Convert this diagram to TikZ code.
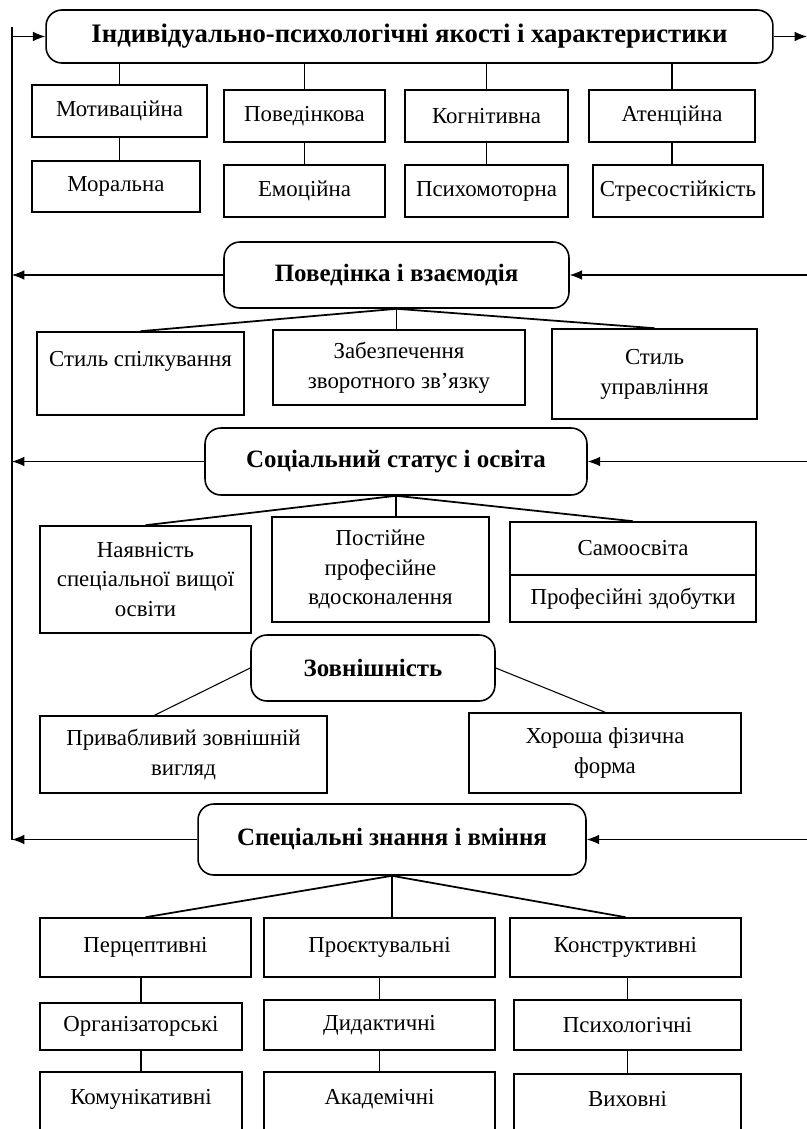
\documentclass[tikz,border=0pt]{standalone}
\usepackage{fontspec}
\setmainfont{Liberation Serif}
\usepackage{tikz}
\usetikzlibrary{arrows.meta, calc}
\tikzstyle{box} = [draw, line width=0.9pt, align=center, inner sep=2pt, font=\fontsize{13}{17}\selectfont]
\tikzstyle{head} = [draw, rounded corners=9pt, line width=0.9pt, align=center, font=\fontsize{14.2}{17}\selectfont\bfseries]
\tikzstyle{line} = [line width=0.6pt]
\tikzstyle{fan} = [line width=1pt]

\begin{document}
\begin{tikzpicture}[x=0.02cm, y=-0.02cm, >={Latex[length=7pt,width=5.5pt]}]
\clip (0,0) rectangle (807,1129);

%nodes
\node (1) [head, minimum width=14.54cm, minimum height=1.06cm, font=\fontsize{15.2}{17}\selectfont\bfseries] at (409.5,36.5) {Індивідуально-психологічні якості і характеристики};
\node (2) [box, minimum width=3.5cm, minimum height=1.04cm] at (119.5,111) {Мотиваційна};
\node (3) [box, minimum width=3.36cm, minimum height=1.02cm] at (116,186.5) {Моральна};
\node (4) [box, minimum width=3.22cm, minimum height=1.04cm] at (304.5,116) {Поведінкова};
\node (5) [box, minimum width=3.22cm, minimum height=1.04cm] at (304.5,191) {Емоційна};
\node (6) [box, minimum width=3.26cm, minimum height=1.04cm] at (486.5,116) {Когнітивна};
\node (7) [box, minimum width=3.26cm, minimum height=1.04cm] at (486.5,191) {Психомоторна};
\node (8) [box, minimum width=3.32cm, minimum height=1.04cm] at (672,116) {Атенційна};
\node (9) [box, minimum width=3.4cm, minimum height=1.04cm] at (678,191) {Стресостійкість};

\node (10) [head, minimum width=6.9cm, minimum height=1.32cm] at (396.5,275) {Поведінка і взаємодія};
\node (11) [box, minimum width=4.14cm, minimum height=1.66cm] at (140.5,373.5) {Стиль спілкування\\ \mbox{}};
\node (12) [box, minimum width=5.04cm, minimum height=1.5cm] at (399,367.5) {Забезпечення\\ зворотного зв’язку};
\node (13) [box, minimum width=4.1cm, minimum height=1.8cm] at (654.5,374) {Стиль\\ управління};

\node (14) [head, minimum width=7.64cm, minimum height=1.34cm] at (396,461.5) {Соціальний статус і освіта};
\node (15) [box, minimum width=4.22cm, minimum height=2.14cm] at (145.5,579.5) {Наявність\\ спеціальної вищої\\ освіти};
\node (16) [box, minimum width=4.34cm, minimum height=2.1cm] at (380.5,569.5) {Постійне\\ професійне\\ вдосконалення};
\node (17) [box, minimum width=4.92cm, minimum height=1.06cm] at (633,548.5) {Самоосвіта};
\node (18) [box, minimum width=4.92cm, minimum height=0.94cm] at (633,598.5) {Професійні здобутки};

\node (19) [head, minimum width=4.88cm, minimum height=1.32cm] at (373,668) {Зовнішність};
\node (20) [box, minimum width=5.74cm, minimum height=1.54cm] at (183.5,754.5) {Привабливий зовнішній\\ вигляд};
\node (21) [box, minimum width=5.44cm, minimum height=1.6cm] at (605,753) {Хороша фізична\\ форма};

\node (22) [head, minimum width=7.76cm, minimum height=1.42cm] at (392,839.5) {Спеціальні знання і вміння};
\node (23) [box, minimum width=4.22cm, minimum height=1.18cm] at (145.5,947.5) {Перцептивні};
\node (24) [box, minimum width=4.62cm, minimum height=1.18cm] at (379.5,947.5) {Проєктувальні};
\node (25) [box, minimum width=4.62cm, minimum height=1.18cm] at (625.5,947.5) {Конструктивні};
\node (26) [box, minimum width=4.04cm, minimum height=0.94cm] at (141,1026.5) {Організаторські};
\node (27) [box, minimum width=4.62cm, minimum height=1cm] at (379.5,1025) {Дидактичні};
\node (28) [box, minimum width=4.54cm, minimum height=1cm] at (627.5,1025) {Психологічні};
\node (29) [box, minimum width=4.04cm, minimum height=1.6cm] at (141,1112) {Комунікативні\\ \mbox{}};
\node (30) [box, minimum width=4.62cm, minimum height=1.6cm] at (379.5,1112) {Академічні\\ \mbox{}};
\node (31) [box, minimum width=4.54cm, minimum height=1.6cm] at (627.5,1114) {Виховні\\ \mbox{}};

\coordinate (L) at (12,27);
\coordinate (R) at (807,0);

%arrows
\draw [line] (L) -- (L |- 22.west);
\draw [line, ->] (1.west -| L) -- (1.west);
\draw [line, ->] (1.east) -- (1.east -| R);
\draw [line, ->] (10.west) -- (10.west -| L);
\draw [line, ->] (10.east -| R) -- (10.east);
\draw [line, ->] (14.west) -- (14.west -| L);
\draw [line, ->] (14.east -| R) -- (14.east);
\draw [line, ->] (22.west) -- (22.west -| L);
\draw [line, ->] (22.east -| R) -- (22.east);

\draw [line] (2) -- (2 |- 1.south);
\draw [line] (4) -- (4 |- 1.south);
\draw [line] (6) -- (6 |- 1.south);
\draw [line] (8) -- (8 |- 1.south);
\draw [line] (2.south) -- (2.south |- 3.north);
\draw [line] (4.south) -- (5.north);
\draw [line] (6.south) -- (7.north);
\draw [line] (8.south) -- (8.south |- 9.north);

\draw [fan] (10.south) -- (11.north);
\draw [line] (10.south) -- (10.south |- 12.north);
\draw [fan] (10.south) -- (13.north);

\draw [fan] (14.south) -- (15.north);
\draw [line] (14.south) -- (14.south |- 16.north);
\draw [fan] (14.south) -- (17.north);

\draw [line] (19.west) -- ($(20.north west)!0.4!(20.north east)$);
\draw [line] (19.east) -- (21.north);

\draw [fan] (22.south) -- (23.north);
\draw [fan] (22.south) -- (22.south |- 24.north);
\draw [fan] (22.south) -- (25.north);
\draw [line] (23.south -| 26) -- (26);
\draw [line] (24.south -| 27) -- (27);
\draw [line] (25.south -| 28) -- (28);
\draw [line] (26) -- (29);
\draw [line] (27) -- (30);
\draw [line] (28) -- (31);

\end{tikzpicture}
\end{document}
